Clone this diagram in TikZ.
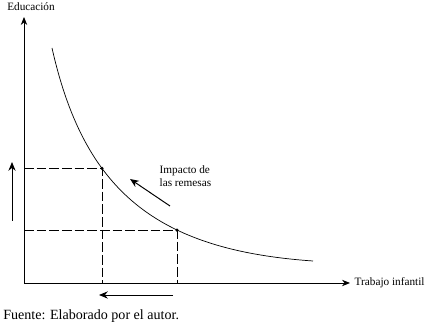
\documentclass[tikz,border=0pt]{standalone}
\usepackage{fontspec}
\setmainfont{Liberation Serif}
\usepackage{tikz}
\usetikzlibrary{arrows.meta,positioning,calc}

\begin{document}
\begin{tikzpicture}[
  x=0.025cm, y=-0.025cm,
  lbl/.style={font=\fontsize{8}{9.5}\selectfont, inner sep=1pt},
  axis/.style={-{Stealth[length=2mm, width=1.6mm]}, line width=0.6pt},
  guide/.style={dash pattern=on 7pt off 2pt, line width=0.5pt},
  move/.style={-{Stealth[length=2.2mm, width=1.8mm]}, line width=0.7pt},
  pt/.style={circle, fill=black, inner sep=0pt, minimum size=2.5pt}]
\useasboundingbox (0,0) rectangle (429,326);
% axes
\coordinate (o) at (24,283);
\coordinate (ytop) at (24,17);
\coordinate (xend) at (350,283);
\draw[axis] (o) -- (ytop);
\draw[axis] (o) -- (xend);
\node[lbl] (edu) at (31,7) {Educación};
\node[lbl, anchor=west] (trab) at (353,283) {Trabajo infantil};
% curve
\draw[line width=0.5pt] (52,48) .. controls (84,190) and (155,250) .. (313,261)
  coordinate[pos=0.35] (a) coordinate[pos=0.65] (b);
\node[pt] (pa) at (a) {};
\node[pt] (pb) at (b) {};
% guides
\draw[guide] (a -| o) -- (pa.center) -- (a |- o);
\draw[guide] (b -| o) -- (pb.center) -- (b |- o);
% shifts
\coordinate (up1) at (12,221);
\coordinate (up2) at (12,162);
\coordinate (lf1) at (173,295);
\coordinate (lf2) at (99,295);
\coordinate (dg1) at (170,206);
\coordinate (dg2) at (130,179);
\draw[move] (up1) -- (up2);
\draw[move] (lf1) -- (lf2);
\draw[move] (dg1) -- (dg2);
\node[lbl, anchor=west, align=left] (imp) at (158,176) {Impacto de\\las remesas};
\node[font=\fontsize{10}{12}\selectfont, anchor=west, inner sep=0pt] (src) at (3,316) {Fuente: Elaborado por el autor.};
\end{tikzpicture}
\end{document}
